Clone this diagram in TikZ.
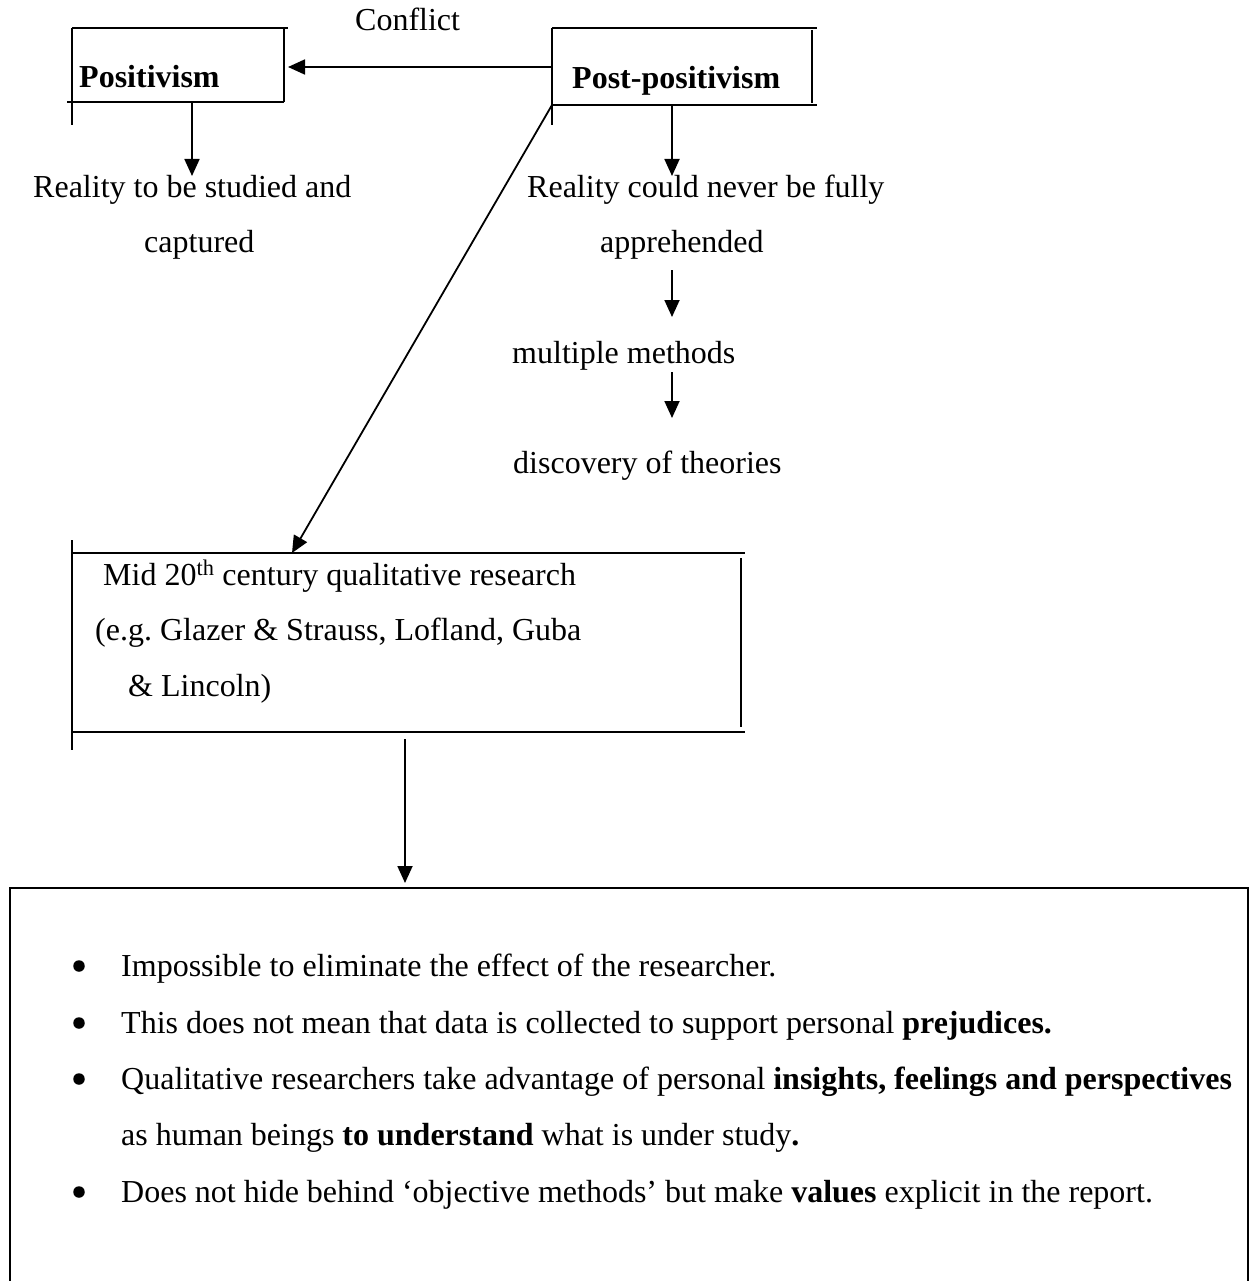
\documentclass[tikz,border=0pt]{standalone}
\usepackage{fontspec}
\setmainfont{Liberation Serif}
\usetikzlibrary{arrows.meta}
\frenchspacing
\begin{document}
\begin{tikzpicture}[x=1pt,y=-1pt,
  txt/.style={inner sep=0pt, anchor=base west, font=\fontsize{32}{55}\selectfont},
  btxt/.style={txt, font=\fontsize{32}{55}\selectfont\bfseries},
  bul/.style={circle, fill=black, inner sep=0pt, minimum size=11.5pt},
  frame/.style={line width=1.8pt},
  bigframe/.style={line width=2.8pt},
  conn/.style={line width=1.8pt, -{Triangle[length=17pt,width=15pt]}},
]
\useasboundingbox (0,0) rectangle (1250,1281);

% ---- Positivism box
\draw[frame] (72,28) -- (288,28);
\draw[frame] (72,28) -- (72,125);
\draw[frame] (284,28) -- (284,102);
\draw[frame] (67,102) -- (284,102);
\node[btxt] (pos) at (79,88) {Positivism};

% ---- Post-positivism box
\draw[frame] (552,28) -- (817,28);
\draw[frame] (552,28) -- (552,125);
\draw[frame] (812,30) -- (812,103);
\draw[frame] (552,105) -- (817,105);
\node[btxt] (post) at (572,89) {Post-positivism};

% ---- Conflict
\node[txt] (conf) at (355,31) {Conflict};
\coordinate (postW) at (552,67);
\coordinate (posE) at (288,67);
\draw[conn] (postW) -- (posE);

% ---- Positivism branch
\coordinate (posS) at (192,103);
\coordinate (r1top) at (192,176);
\draw[conn] (posS) -- (r1top);
\node[txt] (r1a) at (33,198) {Reality to be studied and};
\node[txt] (r1b) at (144,252) {captured};

% ---- Post-positivism branch
\coordinate (postS) at (672,106);
\coordinate (r2top) at (672,176);
\draw[conn] (postS) -- (r2top);
\node[txt] (r2a) at (527,198) {Reality could never be fully};
\node[txt] (r2b) at (600,252) {apprehended};
\coordinate (r2bot) at (672,270);
\coordinate (mmtop) at (672,317);
\draw[conn] (r2bot) -- (mmtop);
\node[txt] (mm) at (512,363) {multiple methods};
\coordinate (mmbot) at (672,372);
\coordinate (dtop) at (672,418);
\draw[conn] (mmbot) -- (dtop);
\node[txt] (disc) at (513,473) {discovery of theories};

% ---- Diagonal
\coordinate (postSW) at (552,105);
\coordinate (midtop) at (292,553);
\draw[conn] (postSW) -- (midtop);

% ---- Mid 20th century box
\draw[frame] (72,553) -- (745,553);
\draw[frame] (72,540) -- (72,750);
\draw[frame] (741,558) -- (741,727);
\draw[frame] (72,732) -- (745,732);
\node[txt] (m1) at (103,585) {Mid 20\textsuperscript{th} century qualitative research};
\node[txt] (m2) at (95,640) {(e.g. Glazer \& Strauss, Lofland, Guba};
\node[txt] (m3) at (128,696) {\& Lincoln)};

\coordinate (midbot) at (405,739);
\coordinate (bigtop) at (405,883);
\draw[conn] (midbot) -- (bigtop);

% ---- Big box (open at bottom edge)
\draw[bigframe] (10,1282) -- (10,888) -- (1248,888) -- (1248,1282);

\node[bul] (d1) at (79,966) {};
\node[txt] (b1) at (121,976) {Impossible to eliminate the effect of the researcher.};
\node[bul] (d2) at (79,1023) {};
\node[txt] (b2) at (121,1033) {This does not mean that data is collected to support personal \textbf{prejudices.}};
\node[bul] (d3) at (79,1079) {};
\node[txt] (b3) at (121,1089) {Qualitative researchers take advantage of personal \textbf{insights, feelings and perspectives}};
\node[txt] (b3b) at (121,1145) {as human beings \textbf{to understand} what is under study\textbf{.}};
\node[bul] (d4) at (79,1192) {};
\node[txt] (b4) at (121,1202) {Does not hide behind ‘objective methods’ but make \textbf{values} explicit in the report.};
\end{tikzpicture}
\end{document}
